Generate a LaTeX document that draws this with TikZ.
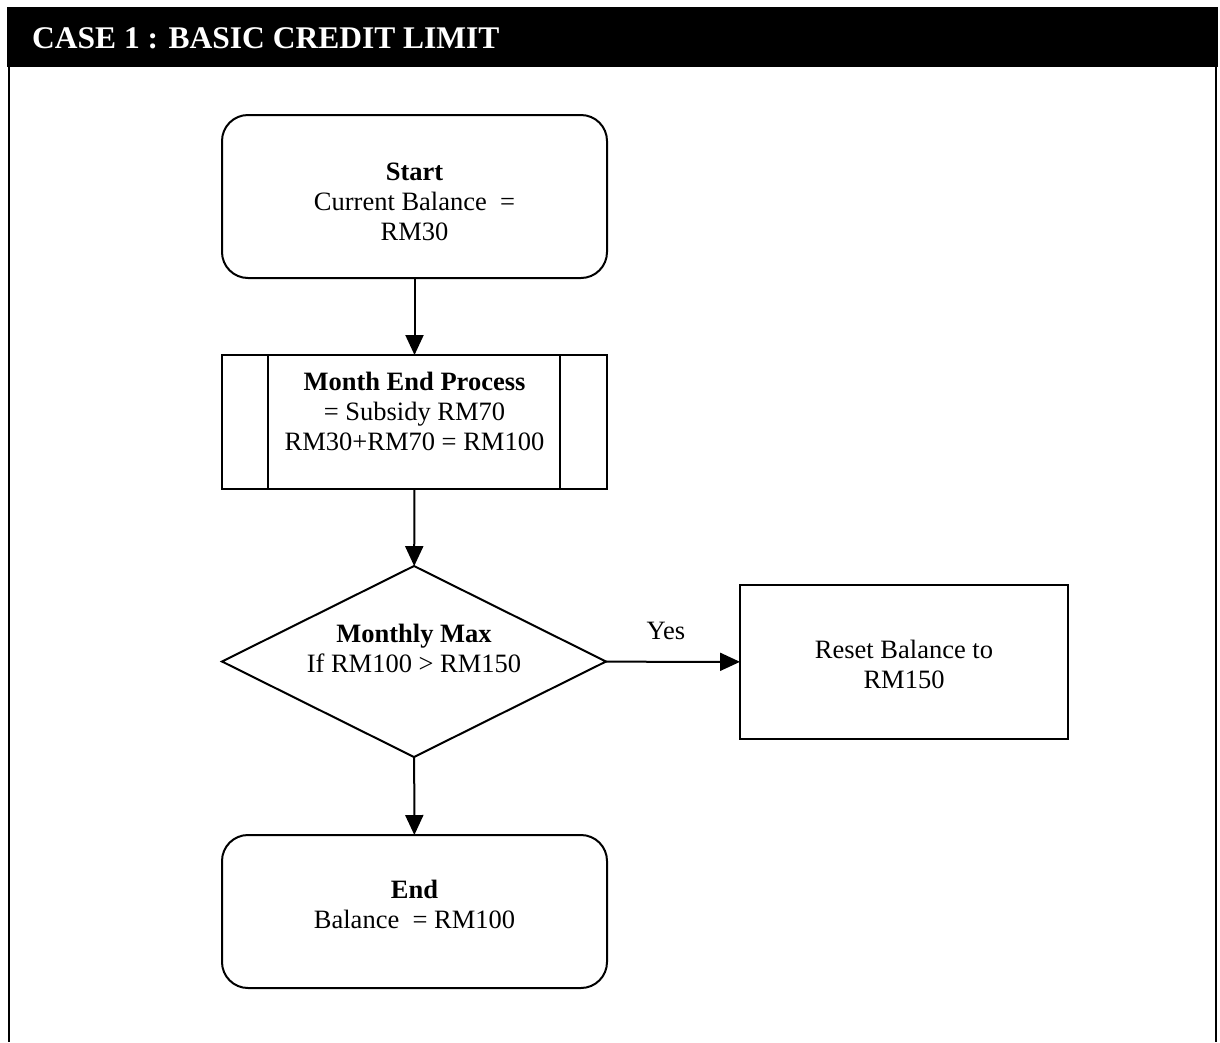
\documentclass[tikz,border=0pt]{standalone}
\usepackage{fontspec}
\setmainfont{Liberation Serif}
\usetikzlibrary{arrows.meta,shapes.geometric}
\begin{document}
\begin{tikzpicture}[x=1pt,y=-1pt,
  shapeline/.style={draw,line width=2pt,inner sep=0pt,outer sep=0pt},
  termbox/.style={shapeline,rectangle,rounded corners=26pt,minimum width=385pt},
  procbox/.style={shapeline,rectangle},
  decbox/.style={shapeline,diamond,minimum width=384pt,minimum height=191pt},
  txt/.style={font=\fontsize{26.5}{30}\selectfont,align=center,inner sep=0pt},
  flow/.style={line width=2pt,-{Triangle[length=20pt,width=18pt]}}]

% page extent
\useasboundingbox (0,0) rectangle (1220,1042);

% heading bar and frame
\fill[black] (7,7) rectangle (1218,67);
\node[anchor=base west,inner sep=0pt,text=white,font=\fontsize{31.5}{36}\selectfont\bfseries]
  (title) at (32,48) {CASE 1 : BASIC CREDIT LIMIT};
\draw[line width=2.5pt] (9,66) -- (9,1042);
\draw[line width=2.5pt] (1216,66) -- (1216,1042);

% flowchart shapes
\node[termbox,minimum height=163pt] (start) at (414.5,196.5) {};
\node[procbox,minimum width=385pt,minimum height=134pt] (month) at (414.5,422) {};
\draw[line width=2pt] ([xshift=46pt]month.north west) -- ([xshift=46pt]month.south west);
\draw[line width=2pt] ([xshift=-47pt]month.north east) -- ([xshift=-47pt]month.south east);
\node[decbox] (check) at (414,661.5) {};
\node[procbox,minimum width=328pt,minimum height=154pt] (reset) at (904,662) {};
\node[termbox,minimum height=153pt] (finish) at (414.5,911.5) {};

% texts
\node[txt] (starttext) at (414.5,202) {\textbf{Start}\\Current Balance~~=\\RM30};
\node[txt] (monthtext) at (414.5,411) {\textbf{Month End Process}\\= Subsidy RM70\\RM30+RM70 = RM100};
\node[txt] (checktext) at (414,648.5) {\textbf{Monthly Max}\\If RM100 > RM150};
\node[txt] (resettext) at (904,664) {Reset Balance to\\RM150};
\node[txt] (finishtext) at (414.5,904) {\textbf{End}\\Balance~~= RM100};
\node[txt] (yes) at (666,631) {Yes};

% connectors
\draw[flow] (start) -- (month);
\draw[flow] (month) -- (check);
\draw[flow] (check) -- (reset);
\draw[flow] (check) -- (finish);
\end{tikzpicture}
\end{document}
